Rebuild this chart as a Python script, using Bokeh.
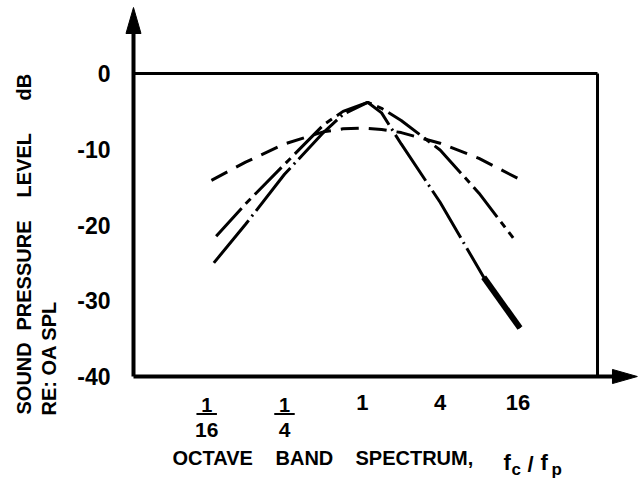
from bokeh.plotting import figure
from bokeh.models import FixedTicker, Label, LinearAxis, LogAxis, Range1d
from bokeh.embed import file_html
from bokeh.resources import INLINE

# Octave band spectra: band level re overall SPL (dB) against fc/fp
wide_x = [0.068, 0.125, 0.25, 0.5, 0.71, 1.0, 1.41, 2.0, 4.0, 8.0, 16.2]
wide_db = [-14.1, -11.7, -9.3, -7.7, -7.3, -7.2, -7.4, -7.8, -9.2, -11.2, -13.9]

mid_x = [0.074, 0.125, 0.25, 0.5, 0.71, 1.1, 1.41, 2.0, 4.0, 8.0, 14.7]
mid_db = [-21.5, -17.2, -12.0, -6.8, -5.0, -3.8, -4.6, -6.2, -10.1, -15.8, -21.7]

narrow_x = [0.071, 0.125, 0.25, 0.5, 0.71, 1.1, 1.41, 2.0, 4.0, 8.7, 16.6]
narrow_db = [-25.0, -19.9, -13.3, -7.8, -5.4, -3.8, -5.2, -9.3, -17.0, -26.9, -33.6]

y_ticks = [0, -10, -20, -30, -40]
y_tick_labels = ["0", "-10", "-20", "-30", "-40"]
x_ticks = [1 / 16, 1 / 4, 1, 4, 16]
x_tick_labels = ["1/16", "1/4", "1", "4", "16"]

FONT = "Liberation Sans"
INK = "black"
W, H = 638, 488

# plot box (fc/fp and dB) and the visible extent around it
BOX_X0, BOX_X1 = 0.01696, 66.09
BOX_Y0, BOX_Y1 = -40, 0
VIEW_X = (0.001586, 137.2)
VIEW_Y = (-54.785, 9.637)
ARROW_TOP = 8.71      # dB at the tip of the vertical arrow
ARROW_RIGHT = 134.4   # fc/fp at the tip of the horizontal arrow

p = figure(width=W, height=H, x_axis_type="log", title=None,
           x_range=Range1d(*VIEW_X), y_range=Range1d(*VIEW_Y),
           x_axis_location=None, y_axis_location=None,
           output_backend="svg", toolbar_location=None, min_border=0)
p.background_fill_color = "white"
p.border_fill_color = "white"
p.outline_line_color = None
p.grid.visible = False

# vertical axis, pinned to the left edge of the box
yax = LinearAxis(fixed_location=BOX_X0, bounds=(BOX_Y0, 6.0),
                 ticker=FixedTicker(ticks=y_ticks),
                 major_label_overrides=dict(zip(y_ticks, y_tick_labels)))
yax.axis_line_width = 4
yax.axis_line_color = INK
yax.major_tick_in = 0
yax.major_tick_out = 0
yax.major_tick_line_color = None
yax.minor_tick_line_color = None
yax.major_label_standoff = 23
yax.major_label_text_font = FONT
yax.major_label_text_font_style = "bold"
yax.major_label_text_font_size = "23px"
yax.major_label_text_color = INK
p.add_layout(yax, "left")

# horizontal axis, pinned to the bottom of the box; fractions are stacked below
xax = LogAxis(fixed_location=BOX_Y0, bounds=(BOX_X0, 100.0),
              ticker=FixedTicker(ticks=x_ticks),
              major_label_overrides={t: ("" if "/" in lab else lab)
                                     for t, lab in zip(x_ticks, x_tick_labels)})
xax.axis_line_width = 4
xax.axis_line_color = INK
xax.major_tick_in = 0
xax.major_tick_out = 0
xax.major_tick_line_color = None
xax.minor_tick_line_color = None
xax.major_label_standoff = 18
xax.major_label_text_font = FONT
xax.major_label_text_font_style = "bold"
xax.major_label_text_font_size = "22px"
xax.major_label_text_color = INK
p.add_layout(xax, "below")

# arrow heads on both axes
k = 4 ** (7.5 / 77.8)
p.patch([BOX_X0, BOX_X0 / k, BOX_X0 * k], [ARROW_TOP, 5.28, 5.28],
        fill_color=INK, line_color=INK)
p.patch([ARROW_RIGHT, 86.3, 86.3], [BOX_Y0, BOX_Y0 + 0.93, BOX_Y0 - 0.93],
        fill_color=INK, line_color=INK)

# top and right sides of the box
p.line([BOX_X0, BOX_X1], [BOX_Y1, BOX_Y1], line_color=INK, line_width=3)
p.line([BOX_X1, BOX_X1], [BOX_Y0, BOX_Y1], line_color=INK, line_width=3)


def text(cx, cy, s, size="20px", angle=0, x_units="screen", align="left"):
    p.add_layout(Label(x=cx, y=H - cy, x_units=x_units, y_units="screen", text=s,
                       angle=angle, angle_units="deg",
                       text_align=align, text_baseline="middle",
                       text_font=FONT, text_font_style="bold",
                       text_font_size=size, text_color=INK))


# fractional tick labels
for t, lab in zip(x_ticks, x_tick_labels):
    if "/" not in lab:
        continue
    num, den = lab.split("/")
    text(t, 404, num, size="20px", x_units="data", align="center")
    text(t, 429, den, size="21px", x_units="data", align="center")
    p.segment(x0=[t / 1.2], x1=[t * 1.2], y0=[-44.95], y1=[-44.95],
              line_color=INK, line_width=2)

# spectra
p.line(wide_x, wide_db, line_color=INK, line_width=3, line_dash="18 10")
p.line(mid_x, mid_db, line_color=INK, line_width=3, line_dash="38 6 7 6")
p.line(narrow_x, narrow_db, line_color=INK, line_width=3, line_dash="55 5 2 5")
p.line(narrow_x[-2:], narrow_db[-2:], line_color=INK, line_width=6)

# horizontal axis title
text(172, 457, "OCTAVE")
text(275, 457, "BAND")
text(355, 457, "SPECTRUM,")
text(503, 462, "f", size="22px")
text(511, 469, "c", size="17px")
text(527, 464, "/", size="22px")
text(540, 462, "f", size="22px")
text(551, 469, "p", size="17px")

# vertical axis title, two rotated lines
text(23, 414, "SOUND", angle=90)
text(23, 330, "PRESSURE", angle=90)
text(23, 197, "LEVEL", angle=90)
text(23, 100, "dB", angle=90)
text(48, 415, "RE: OA SPL", angle=90)

open("out.html", "w").write(file_html(p, INLINE))
